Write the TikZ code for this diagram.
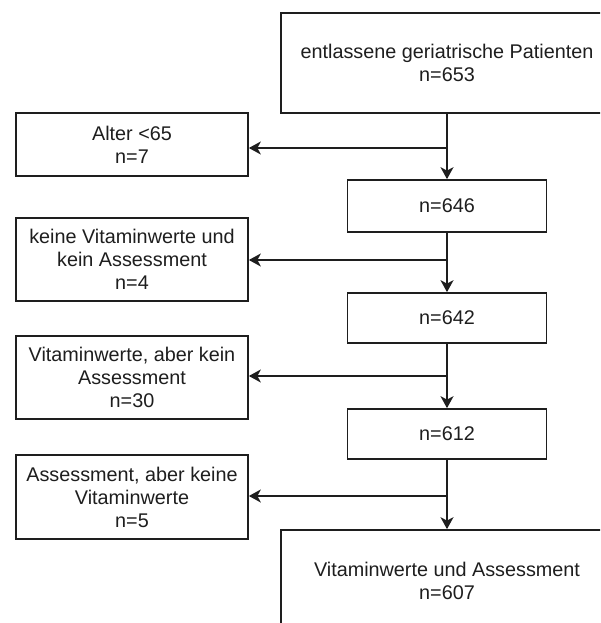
\documentclass[tikz,border=0pt]{standalone}
\usepackage{fontspec}
\setmainfont{Liberation Sans}
\usetikzlibrary{arrows.meta}
\definecolor{ink}{HTML}{1E1E1E}
\tikzset{
  box/.style={draw=ink, line width=1.7pt, fill=white, inner sep=0pt, align=center,
    text=ink, font=\fontsize{19.8}{23}\selectfont},
  conn/.style={draw=ink, line width=1.7pt, -{Stealth[length=12pt,width=13pt,inset=3.5pt]}},
  plain/.style={draw=ink, line width=1.7pt}
}
\begin{document}
\begin{tikzpicture}[x=1pt,y=-1pt]
\useasboundingbox (0,0) rectangle (600,623);
\clip (0,0) rectangle (600,623);
\fill[white] (0,0) rectangle (600,623);

\node[box, minimum width=332pt, minimum height=100pt] (top) at (447,63)
  {entlassene geriatrische Patienten\\n=653};
\node[box, minimum width=232pt, minimum height=63pt] (alter) at (132,144.5)
  {Alter <65\\n=7};
\node[box, minimum width=199pt, minimum height=52pt] (n646) at (447,206) {n=646};
\node[box, minimum width=232pt, minimum height=83pt] (keine) at (132,259.5)
  {keine Vitaminwerte und\\kein Assessment\\n=4};
\node[box, minimum width=199pt, minimum height=50pt] (n642) at (447,318) {n=642};
\node[box, minimum width=232pt, minimum height=83pt] (vitaber) at (132,377.5)
  {Vitaminwerte, aber kein\\Assessment\\n=30};
\node[box, minimum width=199pt, minimum height=50pt] (n612) at (447,434) {n=612};
\node[box, minimum width=232pt, minimum height=84pt] (assaber) at (132,497)
  {Assessment, aber keine\\Vitaminwerte\\n=5};
\node[box, minimum width=332pt, minimum height=102pt] (final) at (447,581)
  {Vitaminwerte und Assessment\\n=607};

\coordinate (j1) at (447,148);
\coordinate (j2) at (447,260);
\coordinate (j3) at (447,376);
\coordinate (j4) at (447,496);

\draw[conn] (top.south) -- (n646.north);
\draw[conn] (n646.south) -- (n642.north);
\draw[conn] (n642.south) -- (n612.north);
\draw[conn] (n612.south) -- (final.north);

\draw[conn] (j1) -- (j1 -| alter.east);
\draw[conn] (j2) -- (j2 -| keine.east);
\draw[conn] (j3) -- (j3 -| vitaber.east);
\draw[conn] (j4) -- (j4 -| assaber.east);
\end{tikzpicture}
\end{document}
